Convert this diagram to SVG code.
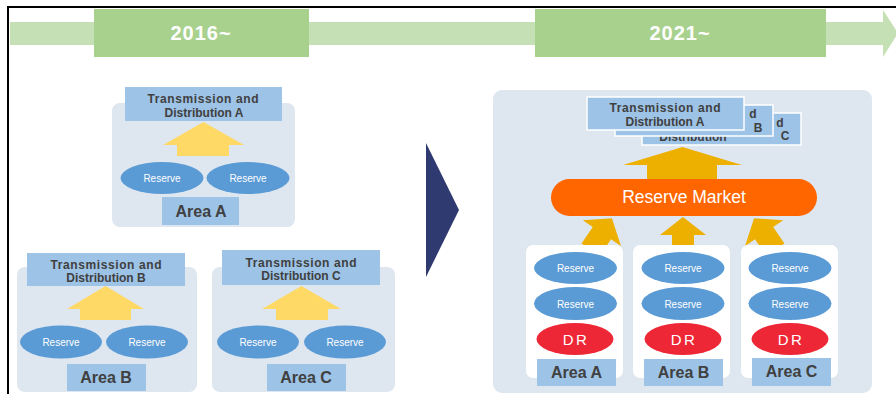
<svg xmlns="http://www.w3.org/2000/svg" width="896" height="394" viewBox="0 0 896 394">
<style>
.panel{fill:#DEE6EF}
.col{fill:#FFFFFF}
.td{fill:#9DC3E6}
.tdf{fill:#9DC3E6;stroke:#FFFFFF;stroke-width:1.5}
.tdt{font-family:"Liberation Sans",Arial,sans-serif;font-size:12px;font-weight:bold;fill:#404040;text-anchor:middle}
.res{fill:#5B9BD5}
.rest{font-family:"Liberation Sans",Arial,sans-serif;font-size:10px;fill:#FFFFFF;text-anchor:middle}
.dr{fill:#EE2736}
.drt{font-family:"Liberation Sans",Arial,sans-serif;font-size:15px;fill:#FFFFFF;text-anchor:middle;letter-spacing:2.5px}
.area{fill:#9DC3E6}
.areat{font-family:"Liberation Sans",Arial,sans-serif;font-size:16px;font-weight:bold;fill:#404040;text-anchor:middle}
.ya{fill:#FFD966}
.ga{fill:#EEB000}
.year{fill:#A9D18E}
.yeart{font-family:"Liberation Sans",Arial,sans-serif;font-size:20px;font-weight:bold;fill:#FFFFFF;text-anchor:middle;letter-spacing:1px}
</style>
<defs>
<path id="smallArrow" d="M0,-16 L23,2 L11,2 L11,22 L-11,22 L-11,2 L-23,2 Z"/>
</defs>
<rect x="0" y="0" width="896" height="394" fill="#FFFFFF"/>
<!-- frame -->
<path d="M8,394 L8,7 L896,7" fill="none" stroke="#000000" stroke-width="2"/>
<!-- timeline -->
<g id="timeline">
<path d="M10,22 L883,22 L883,10 L898,33 L883,57 L883,45 L10,45 Z" fill="#C5E0B4"/>
<g id="year2016"><rect class="year" x="94" y="9" width="215" height="48"/><text class="yeart" x="201" y="40">2016~</text></g>
<g id="year2021"><rect class="year" x="535" y="9" width="291" height="48"/><text class="yeart" x="680" y="40">2021~</text></g>
</g>
<!-- left: Area A -->
<g id="areaA2016">
<rect class="panel" x="112" y="103" width="183" height="124" rx="8"/>
<rect class="td" x="125" y="87" width="157" height="34"/>
<text class="tdt"><tspan x="203" y="103" textLength="111">Transmission and</tspan><tspan x="204" y="117">Distribution A</tspan></text>
<path class="ya" d="M203.5,122 L244,145 L229,145 L229,156 L177,156 L177,145 L163,145 Z"/>
<ellipse class="res" cx="162" cy="178" rx="41.5" ry="16"/><text class="rest" x="162" y="182">Reserve</text>
<ellipse class="res" cx="248" cy="178" rx="41.5" ry="16"/><text class="rest" x="248" y="182">Reserve</text>
<rect class="area" x="162" y="197" width="77" height="28"/><text class="areat" x="201" y="217">Area A</text>
</g>
<g id="areaB2016">
<rect class="panel" x="17" y="267" width="180" height="125" rx="8"/>
<rect class="td" x="27" y="253" width="158" height="33"/>
<text class="tdt"><tspan x="106" y="269" textLength="111">Transmission and</tspan><tspan x="106" y="282">Distribution B</tspan></text>
<path class="ya" d="M105.5,286 L144,309 L131,309 L131,320 L80,320 L80,309 L67,309 Z"/>
<ellipse class="res" cx="61" cy="342" rx="41" ry="16.5"/><text class="rest" x="61" y="346">Reserve</text>
<ellipse class="res" cx="147" cy="342" rx="41" ry="16.5"/><text class="rest" x="147" y="346">Reserve</text>
<rect class="area" x="67" y="364" width="79" height="27"/><text class="areat" x="106" y="383">Area B</text>
</g>
<g id="areaC2016">
<rect class="panel" x="212" y="267" width="183" height="125" rx="8"/>
<rect class="td" x="222" y="250" width="158" height="35"/>
<text class="tdt"><tspan x="301" y="267" textLength="111">Transmission and</tspan><tspan x="301" y="280">Distribution C</tspan></text>
<path class="ya" d="M301.5,286 L341,309 L328,309 L328,320 L276,320 L276,309 L262,309 Z"/>
<ellipse class="res" cx="258" cy="342" rx="41" ry="16.5"/><text class="rest" x="258" y="346">Reserve</text>
<ellipse class="res" cx="345" cy="342" rx="41" ry="16.5"/><text class="rest" x="345" y="346">Reserve</text>
<rect class="area" x="267" y="364" width="79" height="27"/><text class="areat" x="306" y="383">Area C</text>
</g>
<!-- transition arrow -->
<g id="transition"><path d="M426,143 L459,210 L426,277 Z" fill="#2E3A70"/></g>
<!-- right panel -->
<g id="panel2021"><rect class="panel" x="493" y="90" width="379" height="303" rx="9"/></g>
<g id="tdStack">
<g id="tdC">
<rect class="tdf" x="642" y="113" width="159" height="32"/>
<text class="tdt" x="780" y="127" text-anchor="end">d</text>
<text class="tdt" x="693" y="141">Distribution</text>
<text class="tdt" x="785" y="140">C</text>
</g>
<g id="tdB">
<rect class="tdf" x="615" y="105" width="158" height="31"/>
<text class="tdt" x="753" y="118" text-anchor="end">d</text>
<text class="tdt" x="758" y="132">B</text>
</g>
<g id="tdA">
<rect class="tdf" x="587" y="97" width="157" height="33"/>
<text class="tdt"><tspan x="665" y="112" textLength="111">Transmission and</tspan><tspan x="665" y="126">Distribution A</tspan></text>
</g>
</g>
<g id="connectors">
<path class="ga" d="M682.5,147 L742,165 L717,165 L717,180 L647,180 L647,165 L623,165 Z"/>
<path class="ga" d="M683,217 L706,235 L694,235 L694,250 L672,250 L672,235 L660,235 Z"/>
<use href="#smallArrow" class="ga" transform="translate(603,231.5) rotate(34)"/>
<use href="#smallArrow" class="ga" transform="translate(763,231.5) rotate(-34)"/>
</g>
<g id="reserveMarket">
<rect x="551" y="179" width="266" height="37" rx="18.5" fill="#FF6600"/>
<text x="684" y="203" font-family="'Liberation Sans',Arial,sans-serif" font-size="17.5" fill="#FFFFFF" text-anchor="middle">Reserve Market</text>
</g>
<g id="areaA2021">
<rect class="col" x="526" y="245" width="97" height="133" rx="7"/>
<ellipse class="res" cx="575.5" cy="268" rx="41.5" ry="16"/><text class="rest" x="575.5" y="272">Reserve</text>
<ellipse class="res" cx="575.5" cy="303.5" rx="41.5" ry="16.5"/><text class="rest" x="575.5" y="307.5">Reserve</text>
<ellipse class="dr" cx="575" cy="339" rx="38.5" ry="16"/><text class="drt" x="576" y="344.5">DR</text>
<rect class="area" x="537" y="359" width="79" height="27"/><text class="areat" x="576.5" y="378">Area A</text>
</g>
<g id="areaB2021">
<rect class="col" x="633" y="245" width="97" height="133" rx="7"/>
<ellipse class="res" cx="683" cy="268" rx="41.5" ry="16"/><text class="rest" x="683" y="272">Reserve</text>
<ellipse class="res" cx="683" cy="303.5" rx="41.5" ry="16.5"/><text class="rest" x="683" y="307.5">Reserve</text>
<ellipse class="dr" cx="683" cy="339" rx="38.5" ry="16"/><text class="drt" x="684" y="344.5">DR</text>
<rect class="area" x="644" y="359" width="79" height="27"/><text class="areat" x="683.5" y="378">Area B</text>
</g>
<g id="areaC2021">
<rect class="col" x="741" y="245" width="97" height="133" rx="7"/>
<ellipse class="res" cx="790" cy="268" rx="41.5" ry="16"/><text class="rest" x="790" y="272">Reserve</text>
<ellipse class="res" cx="790" cy="303.5" rx="41.5" ry="16.5"/><text class="rest" x="790" y="307.5">Reserve</text>
<ellipse class="dr" cx="790" cy="339" rx="38.5" ry="16"/><text class="drt" x="791" y="344.5">DR</text>
<rect class="area" x="752" y="358" width="79" height="28"/><text class="areat" x="791.5" y="377">Area C</text>
</g>
</svg>
